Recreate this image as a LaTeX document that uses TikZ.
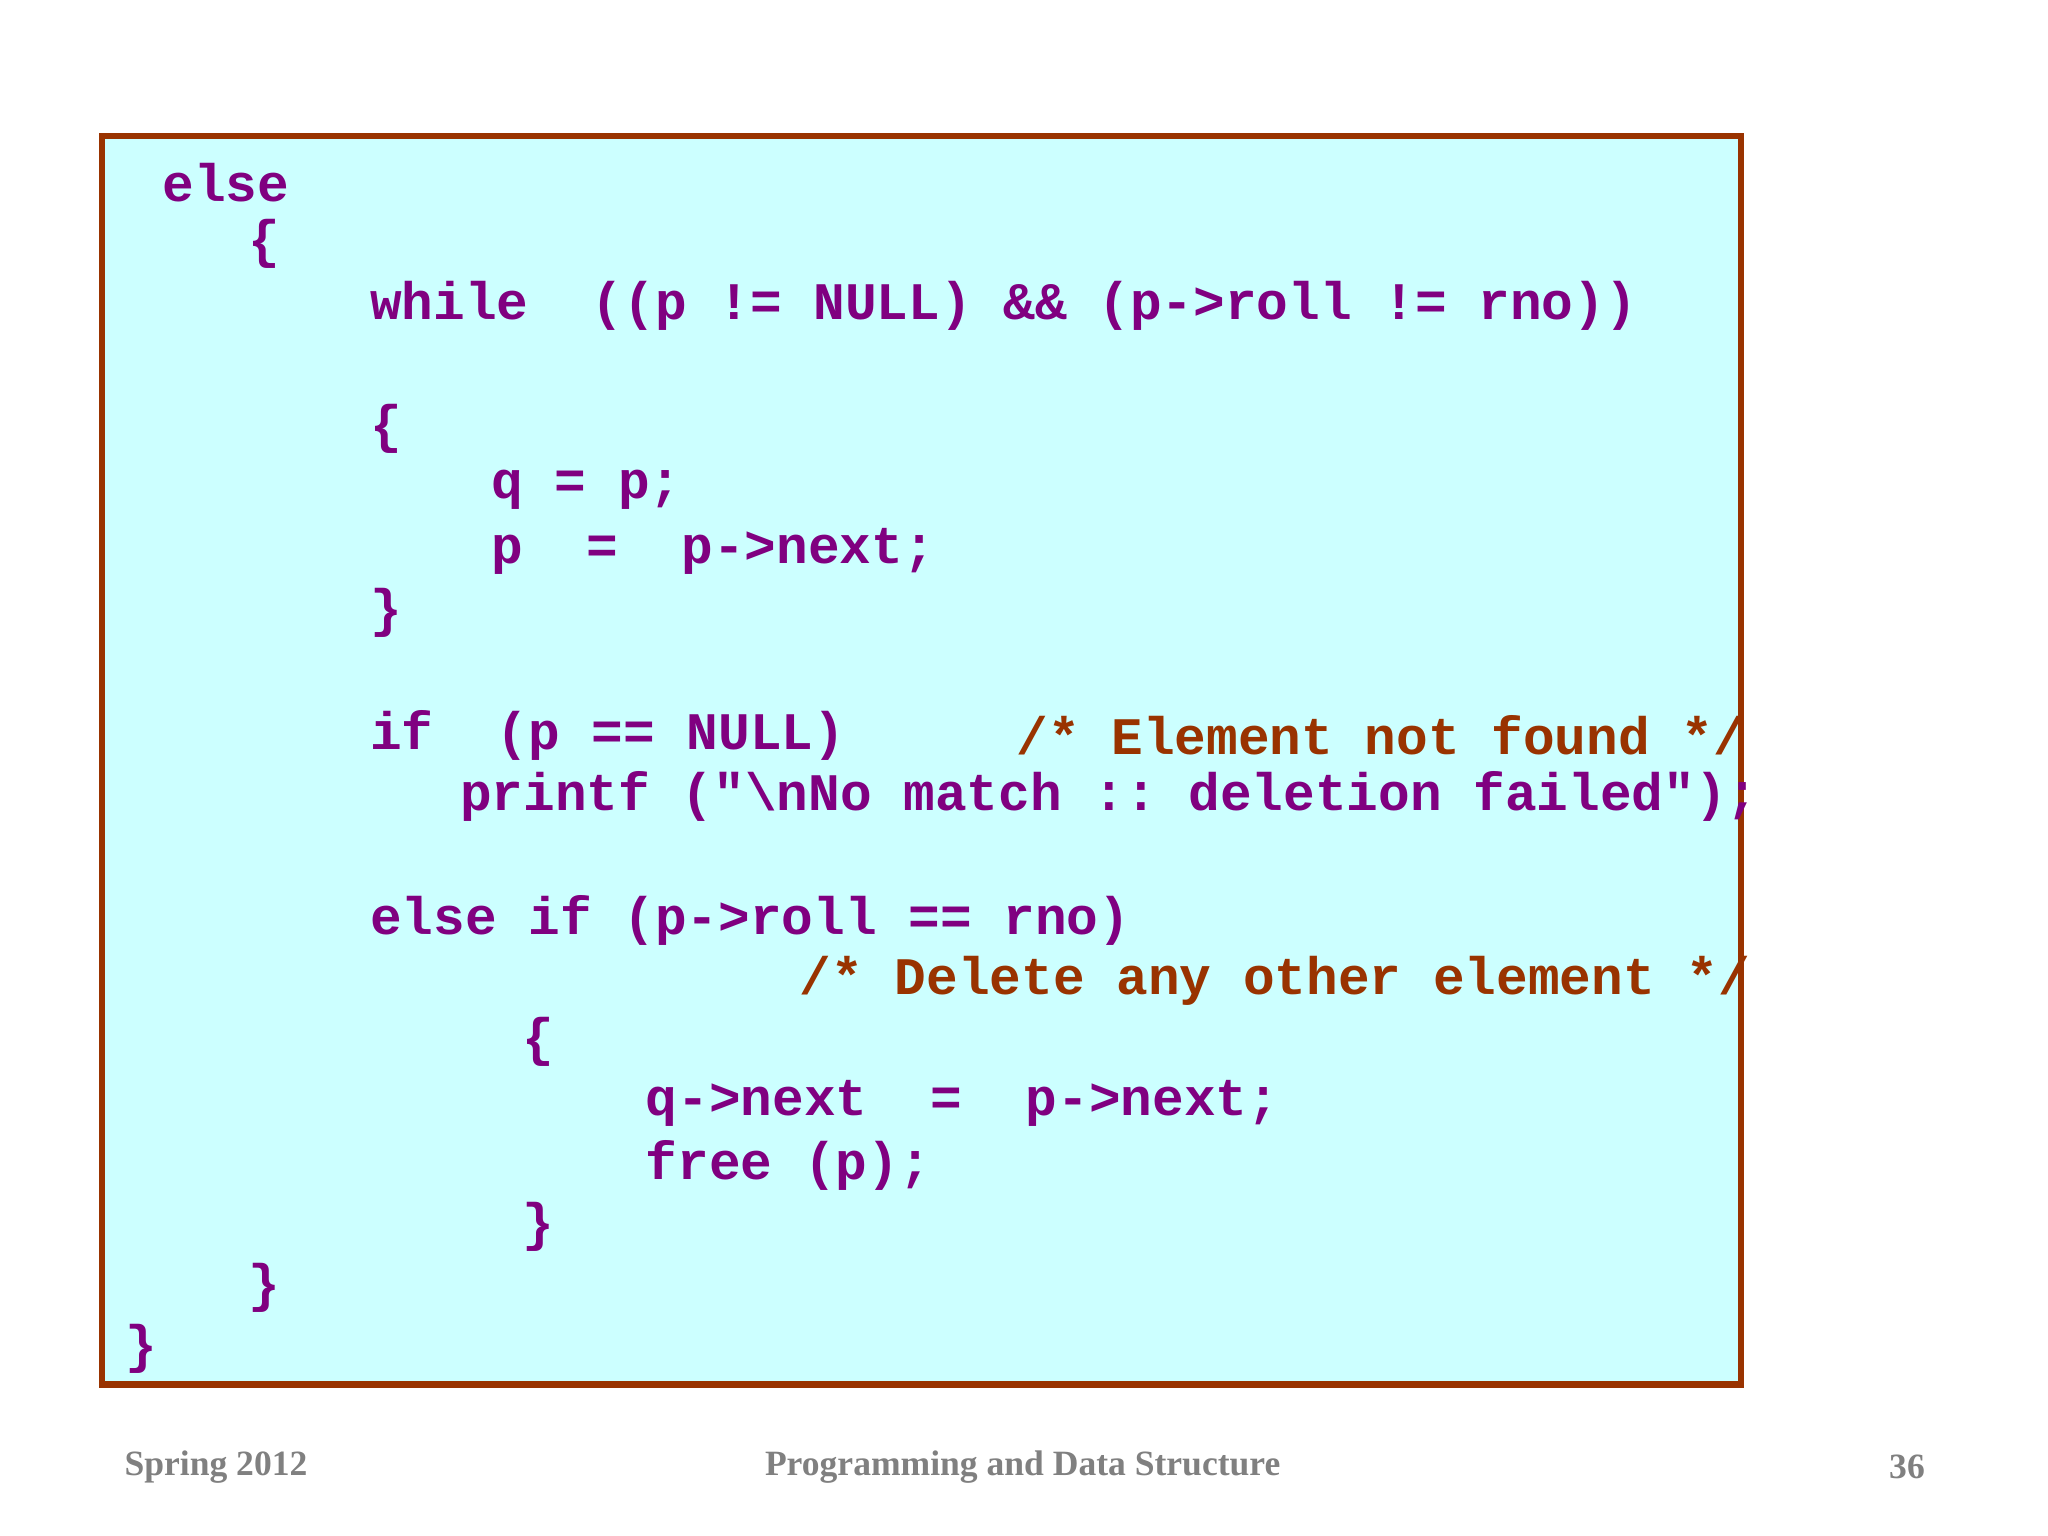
\documentclass[tikz,border=0pt]{standalone}
\usepackage{fontspec}
\setmonofont{Liberation Mono}
\setmainfont{Liberation Serif}
\definecolor{code}{RGB}{128,0,128}
\definecolor{cmt}{RGB}{153,51,0}
\definecolor{frame}{RGB}{153,51,0}
\definecolor{bg}{RGB}{204,255,255}
\definecolor{foot}{RGB}{128,128,128}
\tikzset{ln/.style={anchor=west,inner sep=0pt,font=\ttfamily\bfseries\fontsize{23}{23}\selectfont,text=code},
 cmtline/.style={ln,text=cmt},
 ft/.style={inner sep=0pt,font=\bfseries\fontsize{15.5}{15.5}\selectfont,text=foot}}
\begin{document}
\begin{tikzpicture}[x=0.02cm,y=-0.02cm]
\useasboundingbox (0,0) rectangle (1568,1176);
\draw[frame,line width=0.1cm,fill=bg] (78,104) rectangle (1333,1060);
\node[ln] (l1) at (124,140) {else};
\node[ln] (l2) at (190,187) {\{};
\node[ln] (l3) at (283,234) {while~~((p~!=~NULL)~\&\&~(p->roll~!=~rno))};
\node[ln] (l4) at (283,328) {\{};
\node[ln] (l5) at (376,375) {q~=~p;};
\node[ln] (l6) at (376,422) {p~~=~~p->next;};
\node[ln] (l7) at (283,469) {\}};
\node[ln] (l8) at (283,563) {if~~(p~==~NULL)};
\node[cmtline] (c1) at (778,563) {/*~Element~not~found~*/};
\node[ln] (l9) at (352,610) {printf~("\textbackslash nNo~match~::~deletion~failed");};
\node[ln] (l10) at (283,705) {else~if~(p->roll~==~rno)};
\node[cmtline] (c2) at (612,751) {/*~Delete~any~other~element~*/};
\node[ln] (l11) at (400,798) {\{};
\node[ln] (l12) at (494,845) {q->next~~=~~p->next;};
\node[ln] (l13) at (494,892) {free~(p);};
\node[ln] (l14) at (400,939) {\}};
\node[ln] (l15) at (190,986) {\}};
\node[ln] (l16) at (96,1033) {\}};
\node[ft,anchor=west] (f1) at (95,1123) {Spring 2012};
\node[ft] (f2) at (783,1123) {Programming and Data Structure};
\node[ft,anchor=east] (f3) at (1474,1123) {36};
\end{tikzpicture}
\end{document}
